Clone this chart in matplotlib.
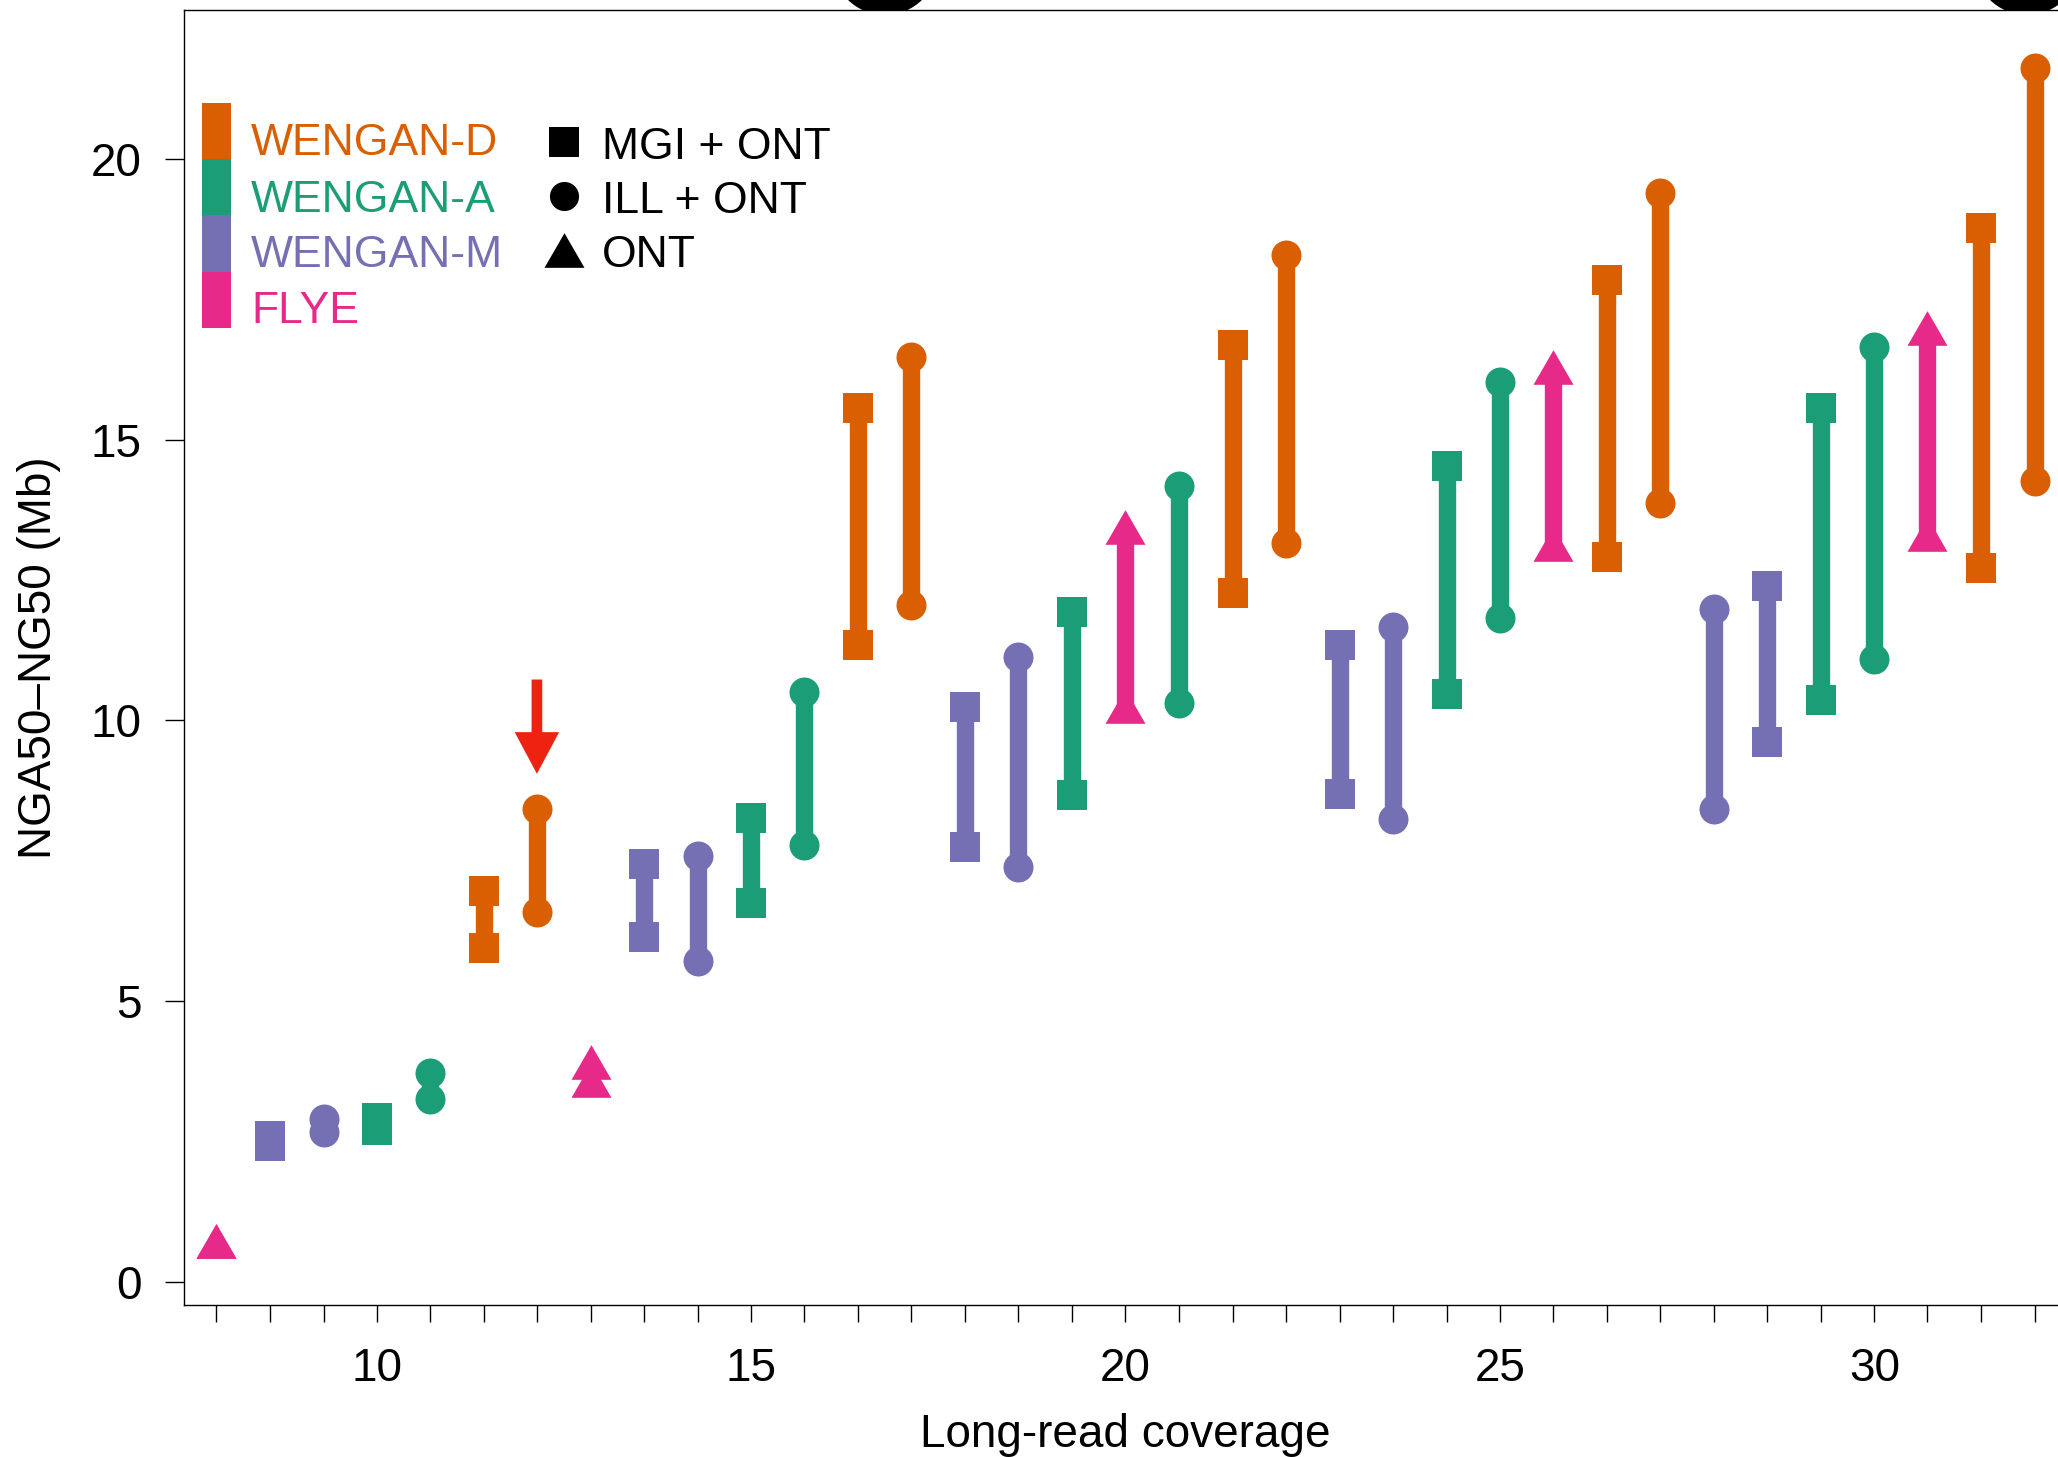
import matplotlib
matplotlib.use('Agg')
import matplotlib.pyplot as plt
from matplotlib.patches import Rectangle, Ellipse, FancyArrowPatch

plt.rcParams['font.family'] = ['Liberation Sans', 'DejaVu Sans']

# data (coverage on x, NGA50-NG50 range on y)
coverage = [7.86, 8.57, 9.29, 10.00, 10.71, 11.43, 12.14, 12.86, 13.57, 14.29,
            15.00, 15.71, 16.43, 17.14, 17.86, 18.57, 19.29, 20.00, 20.71, 21.43,
            22.14, 22.86, 23.57, 24.29, 25.00, 25.71, 26.43, 27.14, 27.86, 28.57,
            29.29, 30.00, 30.71, 31.43, 32.14]
assembler = ['FLYE', 'WENGAN-M', 'WENGAN-M', 'WENGAN-A', 'WENGAN-A', 'WENGAN-D', 'WENGAN-D',
             'FLYE', 'WENGAN-M', 'WENGAN-M', 'WENGAN-A', 'WENGAN-A', 'WENGAN-D', 'WENGAN-D',
             'WENGAN-M', 'WENGAN-M', 'WENGAN-A', 'FLYE', 'WENGAN-A', 'WENGAN-D', 'WENGAN-D',
             'WENGAN-M', 'WENGAN-M', 'WENGAN-A', 'WENGAN-A', 'FLYE', 'WENGAN-D', 'WENGAN-D',
             'WENGAN-M', 'WENGAN-M', 'WENGAN-A', 'WENGAN-A', 'FLYE', 'WENGAN-D', 'WENGAN-D']
reads = ['ONT', 'MGI + ONT', 'ILL + ONT', 'MGI + ONT', 'ILL + ONT', 'MGI + ONT', 'ILL + ONT',
         'ONT', 'MGI + ONT', 'ILL + ONT', 'MGI + ONT', 'ILL + ONT', 'MGI + ONT', 'ILL + ONT',
         'MGI + ONT', 'ILL + ONT', 'MGI + ONT', 'ONT', 'ILL + ONT', 'MGI + ONT', 'ILL + ONT',
         'MGI + ONT', 'ILL + ONT', 'MGI + ONT', 'ILL + ONT', 'ONT', 'MGI + ONT', 'ILL + ONT',
         'ILL + ONT', 'MGI + ONT', 'MGI + ONT', 'ILL + ONT', 'ONT', 'MGI + ONT', 'ILL + ONT']
nga50 = [0.72, 2.42, 2.67, 2.70, 3.25, 5.95, 6.58, 3.60, 6.14, 5.72,
         6.74, 7.78, 11.35, 12.06, 7.75, 7.39, 8.68, 10.26, 10.32, 12.28,
         13.17, 8.69, 8.24, 10.48, 11.82, 13.15, 12.92, 13.87, 8.43, 9.61,
         10.36, 11.09, 13.32, 12.71, 14.26]
ng50 = [0.72, 2.59, 2.90, 2.92, 3.72, 6.96, 8.43, 3.91, 7.44, 7.59,
        8.27, 10.51, 15.56, 16.48, 10.24, 11.14, 11.94, 13.45, 14.18, 16.69,
        18.29, 11.35, 11.67, 14.53, 16.03, 16.29, 17.85, 19.40, 11.98, 12.39,
        15.56, 16.66, 16.99, 18.77, 21.62]

assemblers = ['WENGAN-D', 'WENGAN-A', 'WENGAN-M', 'FLYE']
colors = {'WENGAN-D': '#D95F02', 'WENGAN-A': '#1B9E77',
          'WENGAN-M': '#7570B3', 'FLYE': '#E7298A'}
read_types = ['MGI + ONT', 'ILL + ONT', 'ONT']
tri = [(-1, -0.866), (1, -0.866), (0, 0.866)]
markers = {'MGI + ONT': 's', 'ILL + ONT': 'o', 'ONT': tri}
msize = {'MGI + ONT': 21.6, 'ILL + ONT': 21.6, 'ONT': 28.8}
highlight = 6  # the point marked with the red arrow

fig = plt.figure(figsize=(20.58, 14.57), dpi=100)
ax = fig.add_axes([184 / 2058, 1 - 1305 / 1457, (2066 - 184) / 2058, (1305 - 10) / 1457])

for i in range(len(coverage)):
    c = colors[assembler[i]]
    ax.plot([coverage[i], coverage[i]], [nga50[i], ng50[i]], color=c, lw=12.5,
            solid_capstyle='butt', zorder=2)
    ax.plot([coverage[i], coverage[i]], [nga50[i], ng50[i]], ls='none', color=c,
            marker=markers[reads[i]], ms=msize[reads[i]], mew=0, zorder=3)

# red arrow
xa = coverage[highlight]
arr = FancyArrowPatch((xa, ng50[highlight] + 2.3), (xa, ng50[highlight] + 0.62),
                      arrowstyle='simple,head_length=30,head_width=32,tail_width=7.7',
                      mutation_scale=1, color='#EE2211', lw=0, shrinkA=0, shrinkB=0, zorder=4)
ax.add_patch(arr)

ax.set_xlim(7.427, 32.56)
ax.set_ylim(-0.415, 22.66)
ax.spines['right'].set_visible(False)
for s in ['left', 'bottom', 'top']:
    ax.spines[s].set_linewidth(1.0)

ax.set_yticks([0, 5, 10, 15, 20])
ax.tick_params(axis='y', length=13.5, width=1, pad=17, labelsize=33)
ax.set_xticks([10, 15, 20, 25, 30])
ax.set_xticks(coverage, minor=True)
ax.xaxis.remove_overlapping_locs = False
ax.tick_params(axis='x', which='major', length=0, pad=30, labelsize=33)
ax.tick_params(axis='x', which='minor', length=12, width=1)

# legend: coloured bar + names
for k, name in enumerate(assemblers):
    ax.add_patch(Rectangle((0.00956, 0.9282 - 0.0434 * (k + 1)), 0.01541, 0.0434,
                           transform=ax.transAxes, color=colors[name], lw=0, clip_on=False))
for name, yb in zip(assemblers, [0.8880, 0.8440, 0.8015, 0.7583]):
    ax.text(0.0356, yb, name, color=colors[name], fontsize=32, va='baseline',
            transform=ax.transAxes)

# legend: shapes
for rt, ym, yb in zip(read_types, [0.8977, 0.8560, 0.8147], [0.8849, 0.8432, 0.8015]):
    ax.plot([0.2019], [ym], ls='none', marker=markers[rt], color='black', mew=0,
            ms=msize[rt] * (0.97 if rt != 'ONT' else 1.0), transform=ax.transAxes)
    ax.text(0.2221, yb, rt, fontsize=32, va='baseline', transform=ax.transAxes)

fig.text(39 / 2058, 1 - 657.5 / 1457, 'NGA50\u2013NG50 (Mb)', rotation=90,
         ha='center', va='center', fontsize=33)
fig.text(1125 / 2058, 1 - 1447 / 1457, 'Long-read coverage', ha='center',
         va='baseline', fontsize=33)

# bits of the panel above, cut by the top edge
for xc in [885, 2027]:
    fig.add_artist(Ellipse((xc / 2058, 1 + 38 / 1457), 106 / 2058, 106 / 1457,
                           transform=fig.transFigure, color='black', lw=0, zorder=-1))

fig.savefig('out.png', dpi=100)
